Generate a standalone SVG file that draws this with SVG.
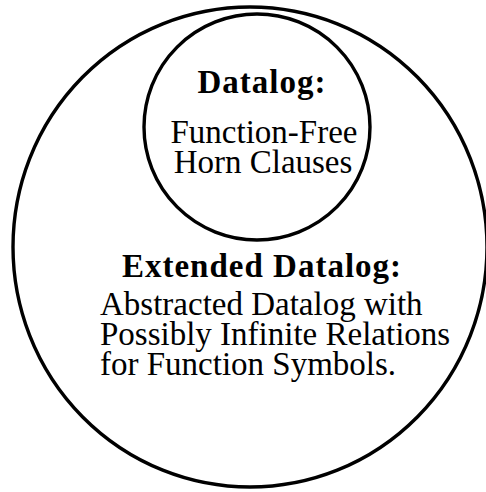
<svg xmlns="http://www.w3.org/2000/svg" width="486" height="492" viewBox="0 0 486 492">
  <style>
    .ring { fill: none; stroke: #000; stroke-width: 3.4; }
    .title { font-family: "Liberation Serif", "Times New Roman", serif; font-weight: bold; font-size: 33px; letter-spacing: 1px; fill: #000; }
    .body { font-family: "Liberation Serif", "Times New Roman", serif; font-size: 33px; fill: #000; }
  </style>
  <rect width="486" height="492" fill="#fff"/>
  <!-- outer set: extended Datalog -->
  <g id="extended-datalog">
    <ellipse class="ring" cx="250" cy="247" rx="237" ry="240"/>
    <text class="title" x="262" y="277" text-anchor="middle">Extended  Datalog:</text>
    <text class="body" x="100" y="315">Abstracted Datalog with<tspan x="100" dy="30">Possibly Infinite Relations</tspan><tspan x="100" dy="30">for Function Symbols.</tspan></text>
  </g>
  <!-- inner set: plain Datalog -->
  <g id="datalog">
    <circle class="ring" cx="257" cy="127" r="113"/>
    <text class="title" x="262" y="93" text-anchor="middle">Datalog:</text>
    <text class="body" x="264" y="143" text-anchor="middle">Function-Free<tspan x="263" dy="30">Horn Clauses</tspan></text>
  </g>
  <g id="connectors"/>
</svg>
